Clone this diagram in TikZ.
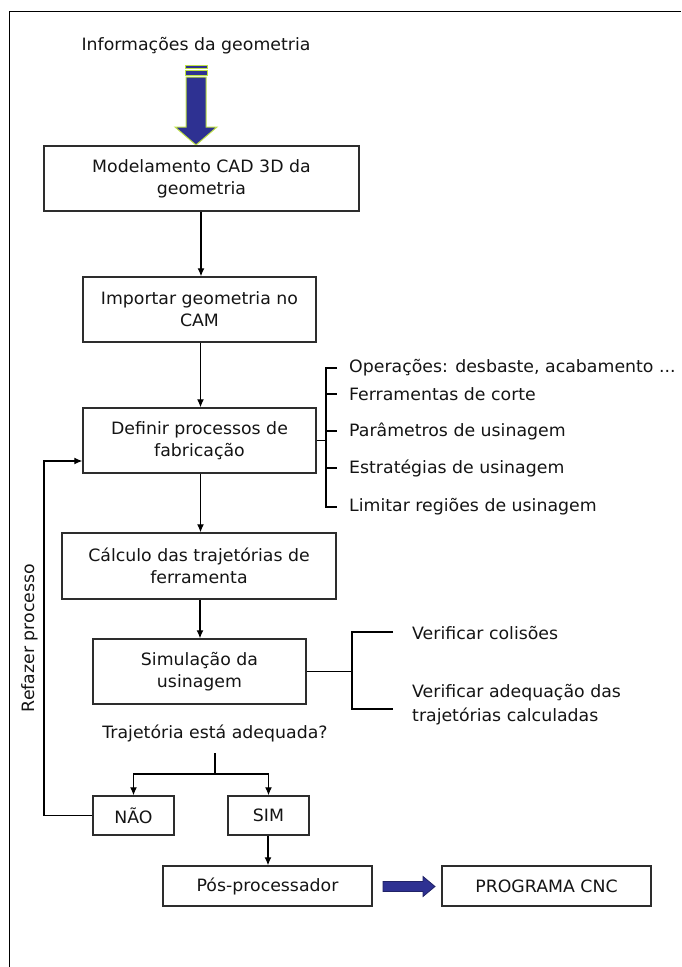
\documentclass[tikz,border=0pt]{standalone}
\usepackage{fontspec}
\setmainfont{DejaVu Sans}[FakeStretch=1.02]
\usetikzlibrary{arrows.meta,calc}
\definecolor{boxline}{RGB}{45,45,45}
\definecolor{txt}{RGB}{20,20,20}
\definecolor{bigblue}{RGB}{46,49,146}
\definecolor{lgreen}{RGB}{190,225,70}
\tikzset{
  stepbox/.style={draw=boxline,line width=1.4pt,inner sep=2pt,align=center,
    text=txt,font=\fontsize{17}{22}\selectfont},
  lbl/.style={text=txt,inner sep=0pt,align=left,font=\fontsize{17}{24}\selectfont},
  conn/.style={draw=black,line width=1.2pt},
  arr/.style={conn,-{Latex[length=8pt,width=7pt]}},
}
\begin{document}
\begin{tikzpicture}[x=1pt,y=-1pt]
\useasboundingbox (0,0) rectangle (681,967);
% frame (right and bottom edges lie outside the picture)
\draw[line width=1pt,black] (9,967) -- (9,11) -- (681,11);

% title
\node[lbl] (info) at (196,46) {Informações da geometria};

% big arrow
\begin{scope}[draw=lgreen,fill=bigblue,line width=1pt]
\filldraw (185,65) rectangle (207,68.5);
\filldraw (185,70.5) rectangle (207,75);
\filldraw (186,77) -- (206,77) -- (206,127) -- (217,127) -- (196,145)
  -- (175,127) -- (186,127) -- cycle;
\end{scope}

% boxes
\node[stepbox,minimum width=315pt,minimum height=65pt] (mod) at (201.5,178.5)
  {Modelamento CAD 3D da\\geometria};
\node[stepbox,minimum width=233pt,minimum height=65pt] (imp) at (199.5,309.5)
  {Importar geometria no\\CAM};
\node[stepbox,minimum width=233pt,minimum height=65pt] (def) at (199.5,440.5)
  {Definir processos de\\fabricação};
\node[stepbox,minimum width=274pt,minimum height=66pt] (cal) at (199,566)
  {Cálculo das trajetórias de\\ferramenta};
\node[stepbox,minimum width=213pt,minimum height=65pt] (sim) at (199.5,671.5)
  {Simulação da\\usinagem};
\node[stepbox,minimum width=81pt,minimum height=39pt] (nao) at (133.5,815.5) {NÃO};
\node[stepbox,minimum width=81pt,minimum height=39pt] (simb) at (268.5,815.5) {SIM};
\node[stepbox,minimum width=209pt,minimum height=40pt] (pos) at (267.5,886) {Pós-processador};
\node[stepbox,minimum width=209pt,minimum height=40pt] (prog) at (546.5,886) {PROGRAMA CNC};

% vertical flow arrows
\draw[arr] ([xshift=-0.5pt]mod.south) -- ([xshift=-0.5pt]mod.south |- imp.north);
\draw[arr] ([xshift=1pt]imp.south) -- ([xshift=1pt]imp.south |- def.north);
\draw[arr] ([xshift=1pt]def.south) -- ([xshift=1pt]def.south |- cal.north);
\draw[arr] ([xshift=1pt]cal.south) -- ([xshift=1pt]cal.south |- sim.north);

% bracket for Definir
\coordinate (bt) at (326,368);
\coordinate (bb) at (326,507);
\draw[conn] (def.east) -- (def.east -| bt);
\draw[conn] (337,368) -- (bt) -- (bb) -- (337,507);
\draw[conn] (326,394) -- (337,394);
\draw[conn] (326,431) -- (337,431);
\draw[conn] (326,468) -- (337,468);
\node[lbl,anchor=west] (o1) at (349,368) {Operações: desbaste, acabamento ...};
\node[lbl,anchor=west] (o2) at (349,394) {Ferramentas de corte};
\node[lbl,anchor=west] (o3) at (349,431) {Parâmetros de usinagem};
\node[lbl,anchor=west] (o4) at (349,468) {Estratégias de usinagem};
\node[lbl,anchor=west] (o5) at (349,507) {Limitar regiões de usinagem};

% bracket for Simulação
\coordinate (st) at (352,632);
\coordinate (sb) at (352,709);
\draw[conn] (sim.east) -- (sim.east -| st);
\draw[conn] (393,632) -- (st) -- (sb) -- (393,709);
\node[lbl,anchor=west] (v1) at (412,633) {Verificar colisões};
\node[lbl,anchor=west] (v2) at (412,705) {Verificar adequação das\\trajetórias calculadas};

% decision
\node[lbl] (q) at (215,733) {Trajetória está adequada?};
\coordinate (qa) at (215,753);
\coordinate (qb) at (215,774);
\draw[conn] (qa) -- (qb);
\draw[arr] (qb) -| (nao.north);
\draw[arr] (qb) -| (simb.north);

% feedback loop
\coordinate (fb) at (44,461);
\draw[arr] (nao.west) -| (fb) -- (fb -| def.west);
\node[lbl,rotate=90] (ref) at (30,638) {Refazer processo};

% SIM to post-processor
\draw[arr] ([xshift=-0.5pt]simb.south) -- ([xshift=-0.5pt]simb.south |- pos.north);

% blue arrow to program
\filldraw[fill=bigblue,draw=bigblue!70!black,line width=0.8pt]
  (383,881.5) -- (423,881.5) -- (423,876.5) -- (435,886.5) -- (423,896.5)
  -- (423,891.5) -- (383,891.5) -- cycle;
\end{tikzpicture}
\end{document}
